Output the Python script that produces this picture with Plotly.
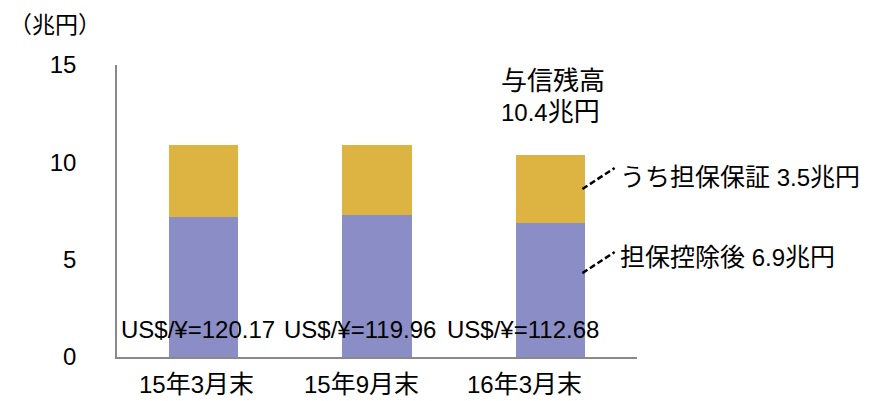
import re
import plotly.graph_objects as go

categories = ["15年3月末", "15年9月末", "16年3月末"]
after_collateral = [7.2, 7.3, 6.9]      # 担保控除後
collateral = [3.7, 3.6, 3.5]            # うち担保保証
fx_labels = ["US$/¥=120.17", "US$/¥=119.96", "US$/¥=112.68"]
y_ticks = [0, 5, 10, 15]

FONT = "Liberation Sans, Arial, Noto Sans CJK JP, sans-serif"
PURPLE = "#8B8DC6"
GOLD = "#DDB441"
FS = 24
CJK_FS = 26


def cjk(s, size=CJK_FS):
    return re.sub(r"([\u3000-\u9fff\uff00-\uffef]+)",
                  lambda m: f'<span style="font-size:{size}px">{m.group(1)}</span>', s)


fig = go.Figure()
fig.add_trace(go.Bar(x=categories, y=after_collateral, marker_color=PURPLE,
                     marker_line_width=0, width=0.4, name="担保控除後"))
fig.add_trace(go.Bar(x=categories, y=collateral, marker_color=GOLD,
                     marker_line_width=0, width=0.4, name="うち担保保証"))

# page body has an 8px margin: size the figure so the plot lands where the reference has it
fig.update_layout(
    barmode="stack",
    width=864, height=393,
    margin=dict(l=109, r=234.5, t=57, b=44, autoexpand=False),
    plot_bgcolor="white", paper_bgcolor="white",
    showlegend=False,
    font=dict(family=FONT, size=FS, color="black"),
)
fig.update_xaxes(range=[-0.5, 2.5], showline=True, linecolor="#898989", linewidth=1.5,
                 showgrid=False, ticks="", showticklabels=False, automargin=False)
fig.update_yaxes(range=[0, 15], tickvals=y_ticks, showline=True, linecolor="#898989",
                 linewidth=1.5, showgrid=False, zeroline=False, ticks="", automargin=False,
                 ticklabelstandoff=34, tickfont=dict(size=FS))

# category labels (placed slightly left of bar centres, as in the reference)
cat_offsets = [-0.043, -0.087, -0.147]
for i, c in enumerate(categories):
    fig.add_annotation(x=i + cat_offsets[i], y=-0.094, xref="x", yref="paper", text=cjk(c, 25),
                       showarrow=False, xanchor="center", yanchor="middle", font=dict(size=FS))

# FX labels
offsets = [-0.03, -0.1, -0.16]
for i, lab in enumerate(fx_labels):
    fig.add_annotation(x=i + offsets[i], y=1.4, xref="x", yref="y", text=lab,
                       showarrow=False, font=dict(size=FS), xanchor="center", yanchor="middle")

# unit label
fig.add_annotation(x=-0.2094, y=1.137, xref="paper", yref="paper", text=cjk("（兆円）", 23),
                   showarrow=False, xanchor="left", yanchor="middle", font=dict(size=FS),
                   borderpad=0)

# total label
fig.add_annotation(x=0.734, y=13.38, xref="paper", yref="y",
                   text=cjk("与信残高") + "<br>" + cjk("10.4兆円"), showarrow=False, align="left",
                   xanchor="left", yanchor="middle", font=dict(size=FS))

# side labels
fig.add_annotation(x=0.963, y=9.24, xref="paper", yref="y", text=cjk("うち担保保証 3.5兆円", 25),
                   showarrow=False, xanchor="left", yanchor="middle", font=dict(size=FS))
fig.add_annotation(x=0.963, y=5.14, xref="paper", yref="y", text=cjk("担保控除後 6.9兆円", 25),
                   showarrow=False, xanchor="left", yanchor="middle", font=dict(size=FS))

# leader lines
for y0, y1 in [(8.63, 9.71), (4.31, 5.39)]:
    fig.add_shape(type="line", xref="paper", yref="y", x0=0.895, x1=0.957, y0=y0, y1=y1,
                  line=dict(color="black", width=2.5, dash="6px,3px"))

fig.write_html("out.html")
